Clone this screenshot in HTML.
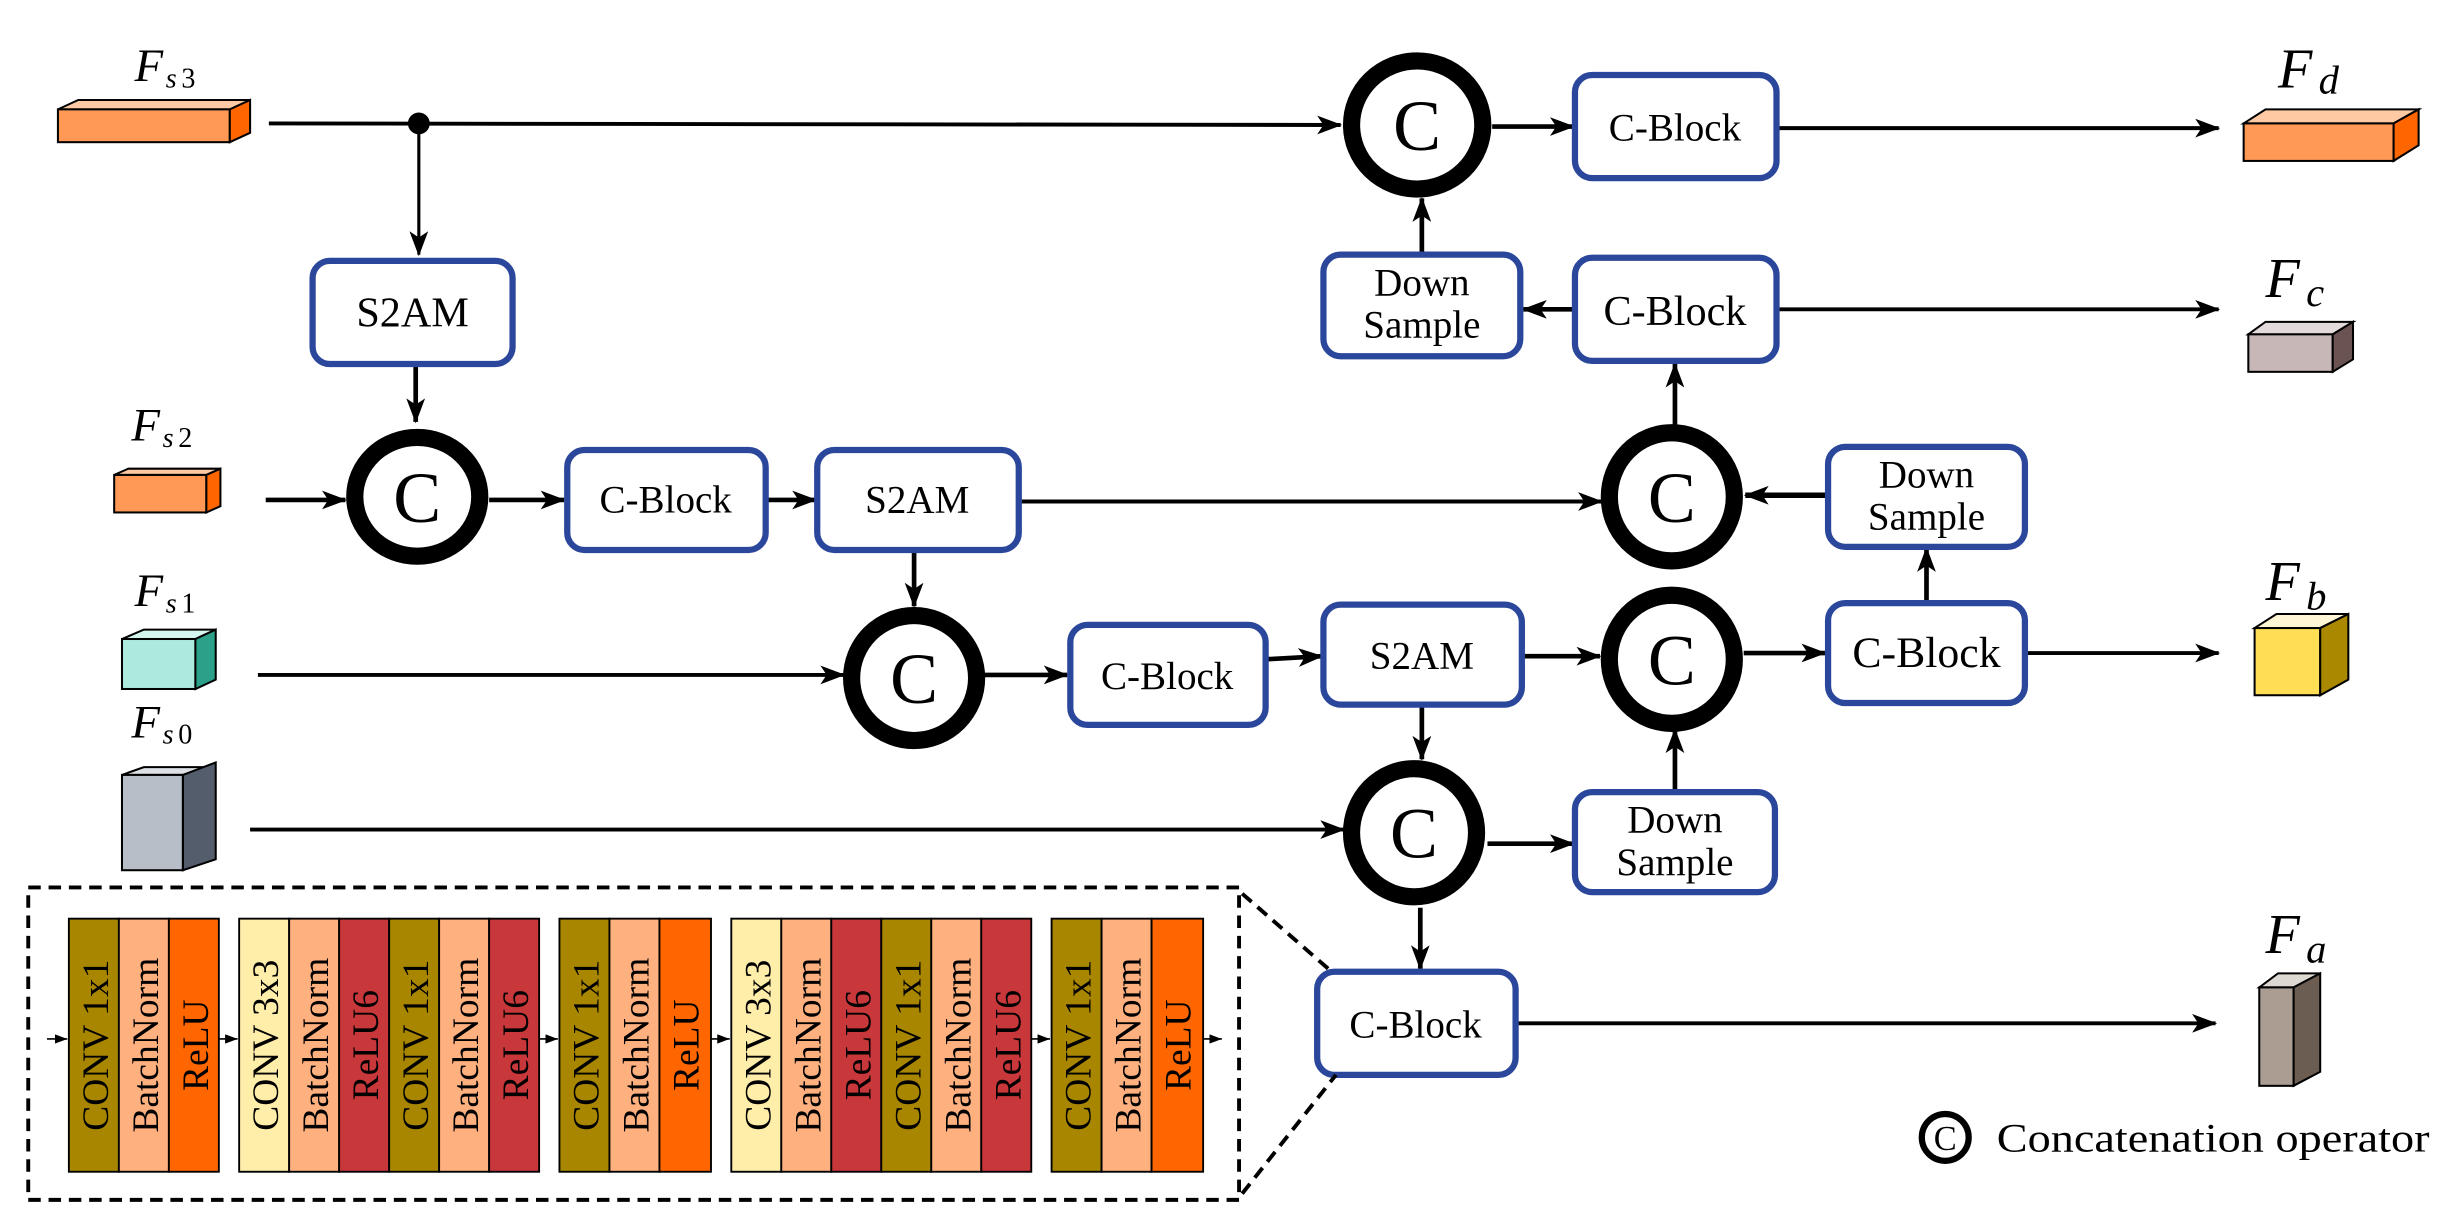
<!DOCTYPE html>
<html><head><meta charset="utf-8"><style>
html,body{margin:0;padding:0;background:#fff;}
svg{display:block;}
svg text{font-family:"Liberation Serif","DejaVu Serif",serif !important;}
</style></head><body>
<svg width="2450" height="1228" viewBox="0 0 1568 786" xmlns="http://www.w3.org/2000/svg" font-family="Liberation Serif, serif">
<defs>
<marker id="ar" viewBox="0 0 16 12" refX="15" refY="6" markerWidth="16" markerHeight="12" orient="auto" markerUnits="userSpaceOnUse">
<path d="M0,0 L16,6 L0,12 L4,6 Z" fill="#000"/></marker>
<marker id="sm" viewBox="0 0 8 6" refX="8" refY="3" markerWidth="8" markerHeight="6" orient="auto" markerUnits="userSpaceOnUse">
<path d="M0,0 L8,3 L0,6 Z" fill="#000"/></marker>
</defs>

<g stroke="#000" stroke-width="1.3">
<polygon points="37,70 50,64 160,64 147,70" fill="#ffc9a3"/>
<rect x="37" y="70" width="110" height="21" fill="#ff9955"/>
<polygon points="147,70 160,64 160,85 147,91" fill="#ff6600"/>

<polygon points="73,304 82,300 141,300 132,304" fill="#ffc9a3"/>
<rect x="73" y="304" width="59" height="24" fill="#ff9955"/>
<polygon points="132,304 141,300 141,324 132,328" fill="#ff6600"/>

<polygon points="78,409 92,403 138,403 125,409" fill="#d5f6ef"/>
<rect x="78" y="409" width="47" height="32" fill="#aee9de"/>
<polygon points="125,409 138,403 138,435 125,441" fill="#2ca089"/>

<polygon points="78,496 92,491 138,491 117,496" fill="#dde1e5"/>
<rect x="78" y="496" width="39" height="61" fill="#b7bec8"/>
<polygon points="117,496 138,488 138,550 117,557" fill="#535d6c"/>

<polygon points="1436,79 1450,70 1548,70 1532,79" fill="#ffc9a3"/>
<rect x="1436" y="79" width="96" height="24" fill="#ff9955"/>
<polygon points="1532,79 1548,70 1548,93 1532,103" fill="#ff6600"/>

<polygon points="1439,214 1450,206 1506,206 1493,214" fill="#e3dbdb"/>
<rect x="1439" y="214" width="54" height="24" fill="#c8b7b7"/>
<polygon points="1493,214 1506,206 1506,230 1493,238" fill="#6c5353"/>

<polygon points="1443,402 1457,393 1503,393 1485,402" fill="#fff6d5"/>
<rect x="1443" y="402" width="42" height="43" fill="#ffdd55"/>
<polygon points="1485,402 1503,393 1503,435 1485,445" fill="#aa8800"/>

<polygon points="1446,632 1458,623 1485,623 1468,632" fill="#ded8d2"/>
<rect x="1446" y="632" width="22" height="63" fill="#ac9d93"/>
<polygon points="1468,632 1485,623 1485,686 1468,695" fill="#6c5d53"/>
</g>

<g font-style="italic" font-size="30" font-family="Liberation Serif, serif">
<text x="86" y="52">F</text><text x="106" y="56" font-size="18">s</text><text x="116" y="56" font-size="18" font-style="normal">3</text>
<text x="84" y="282">F</text><text x="104" y="286" font-size="18">s</text><text x="114" y="286" font-size="18" font-style="normal">2</text>
<text x="86" y="388">F</text><text x="106" y="392" font-size="18">s</text><text x="116" y="392" font-size="18" font-style="normal">1</text>
<text x="84" y="472">F</text><text x="104" y="476" font-size="18">s</text><text x="114" y="476" font-size="18" font-style="normal">0</text>
<text x="1458" y="56" font-size="36">F</text><text x="1484" y="60" font-size="26">d</text>
<text x="1450" y="190" font-size="36">F</text><text x="1476" y="196" font-size="26">c</text>
<text x="1450" y="384" font-size="36">F</text><text x="1476" y="390" font-size="26">b</text>
<text x="1450" y="610" font-size="36">F</text><text x="1476" y="616" font-size="26">a</text>
</g>

<g stroke="#000" stroke-width="2.5" fill="none">
<line x1="172" y1="79" x2="858" y2="80" marker-end="url(#ar)"/>
<line x1="268" y1="79" x2="268" y2="163" stroke-width="2" marker-end="url(#ar)"/>
<line x1="266" y1="234" x2="266" y2="270" stroke-width="3" marker-end="url(#ar)"/>
<line x1="170" y1="320" x2="221" y2="320" stroke-width="3" marker-end="url(#ar)"/>
<line x1="313" y1="320" x2="361" y2="320" stroke-width="3" marker-end="url(#ar)"/>
<line x1="490" y1="320" x2="522" y2="320" stroke-width="3" marker-end="url(#ar)"/>
<line x1="652" y1="321" x2="1025" y2="321" marker-end="url(#ar)"/>
<line x1="1170" y1="317" x2="1117" y2="317" stroke-width="3.5" marker-end="url(#ar)"/>
<line x1="585" y1="352" x2="585" y2="388" stroke-width="3" marker-end="url(#ar)"/>
<line x1="165" y1="432" x2="540" y2="432" marker-end="url(#ar)"/>
<line x1="630" y1="432" x2="683" y2="432" stroke-width="3" marker-end="url(#ar)"/>
<line x1="810" y1="422" x2="846" y2="420" stroke-width="3" marker-end="url(#ar)"/>
<line x1="974" y1="420" x2="1024" y2="420" stroke-width="3" marker-end="url(#ar)"/>
<line x1="1116" y1="418" x2="1168" y2="418" stroke-width="3" marker-end="url(#ar)"/>
<line x1="1296" y1="418" x2="1420" y2="418" marker-end="url(#ar)"/>
<line x1="1233" y1="386" x2="1233" y2="351" stroke-width="3" marker-end="url(#ar)"/>
<line x1="910" y1="451" x2="910" y2="486" stroke-width="3" marker-end="url(#ar)"/>
<line x1="160" y1="531" x2="860" y2="531" marker-end="url(#ar)"/>
<line x1="952" y1="540" x2="1007" y2="540" stroke-width="3" marker-end="url(#ar)"/>
<line x1="1072" y1="507" x2="1072" y2="467" stroke-width="3" marker-end="url(#ar)"/>
<line x1="909" y1="581" x2="909" y2="620" stroke-width="3" marker-end="url(#ar)"/>
<line x1="970" y1="655" x2="1418" y2="655" marker-end="url(#ar)"/>
<line x1="1072" y1="273" x2="1072" y2="233" stroke-width="3" marker-end="url(#ar)"/>
<line x1="1008" y1="198" x2="975" y2="198" stroke-width="3" marker-end="url(#ar)"/>
<line x1="1137" y1="198" x2="1420" y2="198" marker-end="url(#ar)"/>
<line x1="910" y1="163" x2="910" y2="127" stroke-width="3" marker-end="url(#ar)"/>
<line x1="955" y1="81" x2="1007" y2="81" stroke-width="3" marker-end="url(#ar)"/>
<line x1="1137" y1="82" x2="1420" y2="82" marker-end="url(#ar)"/>
</g>
<circle cx="268" cy="79" r="7" fill="#000"/>

<g fill="#fff" stroke="#000" stroke-width="11">
<ellipse cx="267" cy="318" rx="40" ry="38"/>
<ellipse cx="907" cy="80" rx="42" ry="41"/>
<ellipse cx="1070" cy="318" rx="40" ry="41"/>
<ellipse cx="585" cy="434" rx="40" ry="40"/>
<ellipse cx="1070" cy="422" rx="40" ry="41"/>
<ellipse cx="905" cy="533" rx="40" ry="41"/>
</g>
<g font-size="46" text-anchor="middle" font-family="Liberation Serif, serif">
<text x="267" y="334">C</text><text x="907" y="96">C</text><text x="1070" y="334">C</text>
<text x="585" y="450">C</text><text x="1070" y="438">C</text><text x="905" y="549">C</text>
</g>

<g fill="#fff" stroke="#2b479b" stroke-width="4">
<rect x="200" y="167" width="128" height="66" rx="11"/>
<rect x="363" y="288" width="127" height="64" rx="11"/>
<rect x="523" y="288" width="129" height="64" rx="11"/>
<rect x="685" y="400" width="125" height="64" rx="11"/>
<rect x="847" y="387" width="127" height="64" rx="11"/>
<rect x="1170" y="386" width="126" height="64" rx="11"/>
<rect x="1170" y="286" width="126" height="64" rx="11"/>
<rect x="1008" y="507" width="128" height="64" rx="11"/>
<rect x="843" y="622" width="127" height="66" rx="11"/>
<rect x="1008" y="48" width="129" height="66" rx="11"/>
<rect x="847" y="163" width="126" height="65" rx="11"/>
<rect x="1008" y="165" width="129" height="66" rx="11"/>
</g>
<g font-size="25" text-anchor="middle" font-family="Liberation Serif, serif">
<text x="264" y="209" font-size="27">S2AM</text>
<text x="426" y="328">C-Block</text>
<text x="587" y="328">S2AM</text>
<text x="747" y="441">C-Block</text>
<text x="910" y="428">S2AM</text>
<text x="1233" y="427" font-size="28">C-Block</text>
<text x="1233" y="312">Down</text><text x="1233" y="339">Sample</text>
<text x="1072" y="533">Down</text><text x="1072" y="560">Sample</text>
<text x="906" y="664">C-Block</text>
<text x="1072" y="90">C-Block</text>
<text x="910" y="189">Down</text><text x="910" y="216">Sample</text>
<text x="1072" y="208" font-size="27">C-Block</text>
</g>

<circle cx="1245" cy="728" r="15" fill="#fff" stroke="#000" stroke-width="4"/>
<text x="1245" y="736" font-size="22" text-anchor="middle" font-family="Liberation Serif, serif">C</text>
<text x="1278" y="737" font-size="26" textLength="277" lengthAdjust="spacingAndGlyphs" font-family="Liberation Serif, serif">Concatenation operator</text>

<g stroke="#000" stroke-width="2.5" fill="none" stroke-dasharray="8,5">
<polyline points="18,568 793,568 793,768 18,768 18,568"/>
<line x1="795" y1="572" x2="850" y2="620"/>
<line x1="795" y1="764" x2="855" y2="688"/>
</g>

<g stroke="#000" stroke-width="1.2">
<rect x="44" y="588" width="32" height="162" fill="#a88600"/>
<rect x="76" y="588" width="32" height="162" fill="#ffb07f"/>
<rect x="108" y="588" width="32" height="162" fill="#ff6600"/>
<rect x="153" y="588" width="32" height="162" fill="#ffeeaa"/>
<rect x="185" y="588" width="32" height="162" fill="#ffb07f"/>
<rect x="217" y="588" width="32" height="162" fill="#c8373a"/>
<rect x="249" y="588" width="32" height="162" fill="#a88600"/>
<rect x="281" y="588" width="32" height="162" fill="#ffb07f"/>
<rect x="313" y="588" width="32" height="162" fill="#c8373a"/>
<rect x="358" y="588" width="32" height="162" fill="#a88600"/>
<rect x="390" y="588" width="32" height="162" fill="#ffb07f"/>
<rect x="422" y="588" width="33" height="162" fill="#ff6600"/>
<rect x="468" y="588" width="32" height="162" fill="#ffeeaa"/>
<rect x="500" y="588" width="32" height="162" fill="#ffb07f"/>
<rect x="532" y="588" width="32" height="162" fill="#c8373a"/>
<rect x="564" y="588" width="32" height="162" fill="#a88600"/>
<rect x="596" y="588" width="32" height="162" fill="#ffb07f"/>
<rect x="628" y="588" width="32" height="162" fill="#c8373a"/>
<rect x="673" y="588" width="32" height="162" fill="#a88600"/>
<rect x="705" y="588" width="32" height="162" fill="#ffb07f"/>
<rect x="737" y="588" width="33" height="162" fill="#ff6600"/>
</g>
<g font-size="24" text-anchor="middle" font-family="Liberation Serif, serif">
<text transform="translate(69,669) rotate(-90)">CONV 1x1</text>
<text transform="translate(101,669) rotate(-90)">BatchNorm</text>
<text transform="translate(133,669) rotate(-90)">ReLU</text>
<text transform="translate(178,669) rotate(-90)">CONV 3x3</text>
<text transform="translate(210,669) rotate(-90)">BatchNorm</text>
<text transform="translate(242,669) rotate(-90)">ReLU6</text>
<text transform="translate(274,669) rotate(-90)">CONV 1x1</text>
<text transform="translate(306,669) rotate(-90)">BatchNorm</text>
<text transform="translate(338,669) rotate(-90)">ReLU6</text>
<text transform="translate(383,669) rotate(-90)">CONV 1x1</text>
<text transform="translate(415,669) rotate(-90)">BatchNorm</text>
<text transform="translate(447,669) rotate(-90)">ReLU</text>
<text transform="translate(493,669) rotate(-90)">CONV 3x3</text>
<text transform="translate(525,669) rotate(-90)">BatchNorm</text>
<text transform="translate(557,669) rotate(-90)">ReLU6</text>
<text transform="translate(589,669) rotate(-90)">CONV 1x1</text>
<text transform="translate(621,669) rotate(-90)">BatchNorm</text>
<text transform="translate(653,669) rotate(-90)">ReLU6</text>
<text transform="translate(698,669) rotate(-90)">CONV 1x1</text>
<text transform="translate(730,669) rotate(-90)">BatchNorm</text>
<text transform="translate(762,669) rotate(-90)">ReLU</text>
</g>
<g stroke="#000" stroke-width="1">
<line x1="30" y1="665" x2="43" y2="665" marker-end="url(#sm)"/>
<line x1="140" y1="665" x2="152" y2="665" marker-end="url(#sm)"/>
<line x1="345" y1="665" x2="357" y2="665" marker-end="url(#sm)"/>
<line x1="455" y1="665" x2="467" y2="665" marker-end="url(#sm)"/>
<line x1="660" y1="665" x2="672" y2="665" marker-end="url(#sm)"/>
<line x1="770" y1="665" x2="782" y2="665" marker-end="url(#sm)"/>
</g>
</svg>
</body></html>
